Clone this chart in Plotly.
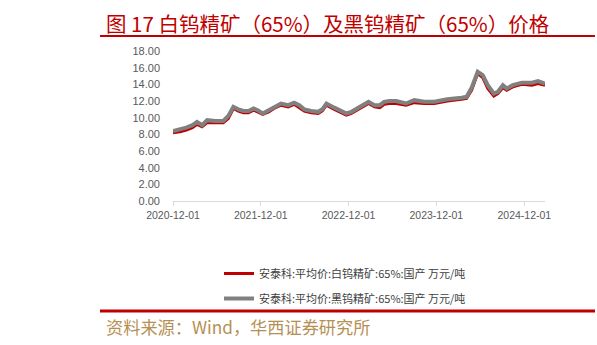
import plotly.graph_objects as go

dates = ["2020-12-01","2020-12-30","2021-01-25","2021-02-20","2021-03-11","2021-04-01","2021-04-22",
         "2021-05-26","2021-06-28","2021-07-19","2021-08-09","2021-08-30","2021-09-20","2021-10-11",
         "2021-11-01","2021-11-18","2021-12-09","2022-01-03","2022-01-25","2022-02-23","2022-03-25",
         "2022-04-19","2022-05-10","2022-05-31","2022-06-29","2022-07-28","2022-08-14","2022-08-31",
         "2022-10-03","2022-10-28","2022-11-22","2022-12-13","2023-01-11","2023-02-01","2023-02-22",
         "2023-03-19","2023-04-10","2023-04-28","2023-05-20","2023-06-17","2023-07-28","2023-08-31",
         "2023-10-12","2023-11-23","2024-01-16","2024-03-15","2024-04-05","2024-04-26","2024-05-21",
         "2024-06-11","2024-07-02","2024-07-27","2024-08-13","2024-09-03","2024-09-19","2024-10-14",
         "2024-11-21","2025-01-02","2025-01-27","2025-02-25"]

black_tungsten = [8.4,8.6,8.8,9.1,9.5,9.1,9.7,9.6,9.6,10.2,11.3,11.0,10.8,10.8,11.1,10.9,10.5,10.9,11.3,11.7,
                  11.5,11.8,11.5,11.0,10.8,10.7,11.0,11.7,11.2,10.8,10.5,10.7,11.2,11.5,11.9,11.5,11.5,11.9,
                  12.0,12.0,11.7,12.1,11.9,11.9,12.2,12.4,12.5,13.6,15.5,15.1,13.9,12.9,13.1,13.9,13.5,13.9,
                  14.2,14.2,14.4,14.1]

white_tungsten = [8.2,8.3,8.5,8.8,9.2,8.9,9.4,9.4,9.4,9.9,11.1,10.8,10.6,10.6,10.9,10.7,10.4,10.7,11.1,11.5,
                  11.3,11.6,11.2,10.8,10.6,10.5,10.8,11.5,11.0,10.6,10.3,10.5,11.0,11.3,11.7,11.3,11.2,11.6,
                  11.7,11.7,11.5,11.8,11.7,11.7,12.0,12.2,12.3,13.3,15.3,14.8,13.5,12.6,12.9,13.6,13.3,13.7,
                  14.0,13.9,14.1,13.9]

name_white = "安泰科:平均价:白钨精矿:65%:国产 万元/吨"
name_black = "安泰科:平均价:黑钨精矿:65%:国产 万元/吨"
title_text = "图 17 白钨精矿（65%）及黑钨精矿（65%）价格"
source_text = "资料来源：Wind，华西证券研究所"
tick_dates = ["2020-12-01","2021-12-01","2022-12-01","2023-12-01","2024-12-01"]

W, H = 597, 345
L, R, T, B = 173, 545, 51, 201

fig = go.Figure()
fig.add_trace(go.Scatter(x=dates, y=white_tungsten, mode="lines", name=name_white,
                         line=dict(color="#C00000", width=3), legendgroup="a"))
fig.add_trace(go.Scatter(x=dates, y=black_tungsten, mode="lines", name=name_black,
                         line=dict(color="#808080", width=4), legendgroup="b"))

fig.update_layout(
    width=W, height=H,
    margin=dict(l=L, r=W - R, t=T, b=H - B, pad=0, autoexpand=False),
    paper_bgcolor="white", plot_bgcolor="white",
    font=dict(family="Liberation Sans, Arial, sans-serif", color="#595959"),
    xaxis=dict(type="date", range=["2020-12-01", "2025-02-25"], tickvals=tick_dates,
               tickformat="%Y-%m-%d", showgrid=False, showline=True, linecolor="#D9D9D9",
               linewidth=1, ticks="outside", ticklen=4, tickcolor="#D9D9D9",
               tickfont=dict(size=10.5, color="#595959"), zeroline=False, automargin=False),
    yaxis=dict(range=[0, 18], dtick=2, tickformat=".2f", showgrid=False, showline=False,
               zeroline=False, ticks="", ticklabelstandoff=12, automargin=False,
               tickfont=dict(size=11, color="#595959")),
    legend=dict(xref="container", yref="container", x=219 / W, y=1 - 259 / H,
                xanchor="left", yanchor="top", font=dict(size=11, color="#404040",
                family="Noto Sans CJK SC, sans-serif"),
                tracegroupgap=6, bgcolor="rgba(0,0,0,0)", traceorder="grouped"),
    showlegend=True,
)

fig.add_annotation(text=title_text, xref="paper", yref="paper",
                   x=(104 - L) / (R - L), y=(B - 23) / (B - T), xanchor="left", yanchor="middle",
                   showarrow=False, font=dict(size=20.5, color="#C00000",
                   family="Noto Sans CJK SC, sans-serif"))
fig.add_annotation(text=source_text, xref="paper", yref="paper",
                   x=(104 - L) / (R - L), y=(B - 326) / (B - T), xanchor="left", yanchor="middle",
                   showarrow=False, font=dict(size=17.2, color="#B68F55",
                   family="Noto Sans CJK SC, sans-serif"))

fig.add_shape(type="line", xref="paper", yref="paper",
              x0=(100 - L) / (R - L), x1=(595 - L) / (R - L),
              y0=(B - 36) / (B - T), y1=(B - 36) / (B - T),
              line=dict(color="#C00000", width=2))
fig.add_shape(type="line", xref="paper", yref="paper",
              x0=(100 - L) / (R - L), x1=(595 - L) / (R - L),
              y0=(B - 311) / (B - T), y1=(B - 311) / (B - T),
              line=dict(color="#C00000", width=3))

fig.write_html("out.html")
